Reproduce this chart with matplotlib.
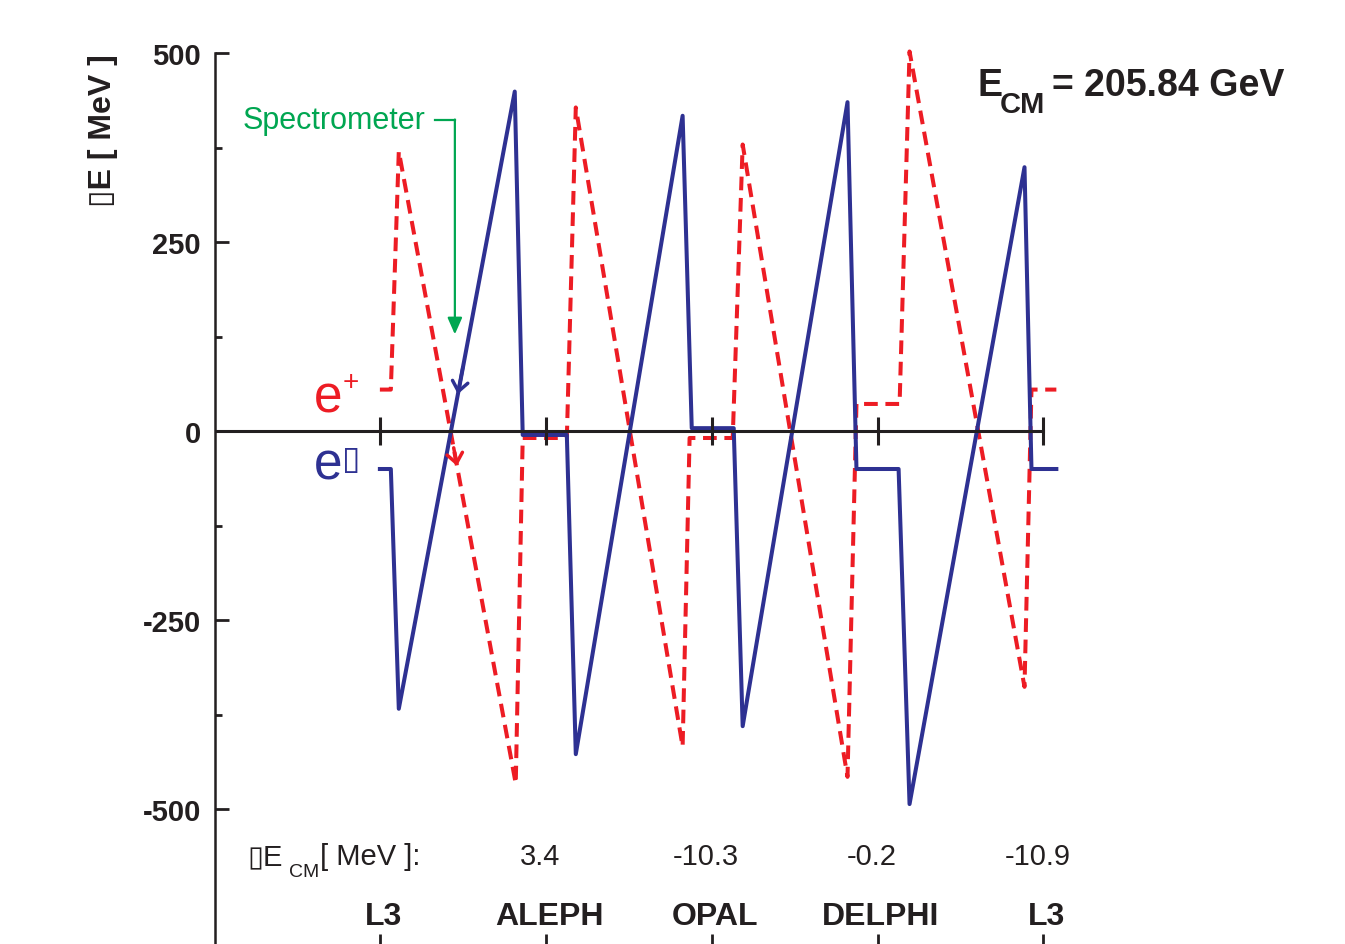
import numpy as np
import matplotlib
matplotlib.use("Agg")
import matplotlib.pyplot as plt
from matplotlib.ticker import FixedLocator

plt.rcParams['font.family'] = ['Liberation Sans', 'DejaVu Sans']
plt.rcParams['axes.unicode_minus'] = False

# interaction points around the ring (in units of IP spacing)
ip_x     = [0, 1, 2, 3, 4]
ip_names = ['L3', 'ALEPH', 'OPAL', 'DELPHI', 'L3']
dEcm_x   = [1, 2, 3, 4]
dEcm_txt = ['3.4', '-10.3', '-0.2', '-10.9']

# e+ energy deviation (MeV), dashed red
ep_x = [0.0, 0.066, 0.114, 0.819, 0.861, 1.127, 1.181, 1.825, 1.867,
        2.127, 2.187, 2.819, 2.873, 3.133, 3.193, 3.886, 3.928, 4.078]
ep_y = [55, 55, 370, -466, -9, -9, 428, -417, -9,
        -9, 379, -457, 36, 36, 502, -338, 55, 55]

# e- energy deviation (MeV), solid blue
em_x = [0.0, 0.066, 0.114, 0.813, 0.861, 1.127, 1.181, 1.825, 1.880,
        2.133, 2.187, 2.819, 2.873, 3.127, 3.193, 3.886, 3.928, 4.078]
em_y = [-50, -50, -367, 449, -5, -5, -427, 417, 4,
        4, -390, 435, -50, -50, -493, 349, -50, -50]

RED = '#ed1c24'
BLUE = '#2e3192'
GREEN = '#00a651'
BLACK = '#231f20'

W, H = 1345, 945
fig = plt.figure(figsize=(W / 100, H / 100), dpi=100)


def fx(px):
    return px / W


def fy(py):
    return 1 - py / H


ax = fig.add_axes([fx(215), 0, fx(1060) - fx(215), 1 - 54 / H])
ax.set_xlim(-0.994, 4.1)
ax.set_ylim(-678, 500)

for s in ['top', 'right', 'bottom']:
    ax.spines[s].set_visible(False)
ax.spines['left'].set_linewidth(1.8)
ax.spines['left'].set_color(BLACK)

ax.yaxis.set_major_locator(FixedLocator([-500, -250, 0, 250, 500]))
ax.yaxis.set_minor_locator(FixedLocator([-375, -125, 125, 375]))
ax.tick_params(axis='y', which='major', direction='in', length=10, width=2,
               pad=10, labelsize=21, colors=BLACK)
ax.tick_params(axis='y', which='minor', direction='in', length=5, width=2,
               colors=BLACK)
for lab in ax.get_yticklabels():
    lab.set_fontweight('bold')

ax.set_xticks(ip_x)
ax.set_xticklabels([])
ax.tick_params(axis='x', which='major', direction='in', length=7, width=2,
               colors=BLACK)

# beam energy curves
ax.plot(ep_x, ep_y, color=RED, lw=2.9, ls=(0, (3.4, 1.9)), clip_on=False, zorder=2)
ax.plot(em_x, em_y, color=BLUE, lw=2.9, clip_on=False, zorder=2)

# zero line with IP marks
ax.plot([ax.get_xlim()[0], ip_x[-1]], [0, 0], color=BLACK, lw=2.2, zorder=3)
ax.plot(ip_x, np.zeros(len(ip_x)), ls='none', marker='|', ms=20, mew=2.2,
        color=BLACK, zorder=3)

# direction chevrons
ax.annotate('', xy=(0.470, 49), xytext=(0.50, 84),
            arrowprops=dict(arrowstyle='->,head_length=0.35,head_width=0.28',
                            color=BLUE, lw=2.5, mutation_scale=20,
                            shrinkA=0, shrinkB=0))
ax.annotate('', xy=(0.465, -46), xytext=(0.445, -22),
            arrowprops=dict(arrowstyle='->,head_length=0.35,head_width=0.28',
                            color=RED, lw=2.5, mutation_scale=20,
                            shrinkA=0, shrinkB=0))

# spectrometer pointer
ax.plot([0.331, 0.452], [412, 412], color=GREEN, lw=1.6)
ax.annotate('', xy=(0.452, 128), xytext=(0.452, 412),
            arrowprops=dict(arrowstyle='-|>,head_length=0.5,head_width=0.22',
                            color=GREEN, lw=1.6, mutation_scale=20,
                            shrinkA=0, shrinkB=0))
ax.text(0.274, 412, 'Spectrometer', color=GREEN, fontsize=22,
        ha='right', va='center')

# e+ / e- labels
ax.text(-0.395, 26, 'e', color=RED, fontsize=37, ha='left', va='baseline')
ax.text(-0.222, 65, '+', color=RED, fontsize=20, ha='left', va='center')
ax.text(-0.395, -62, 'e', color=BLUE, fontsize=37, ha='left', va='baseline')
ax.text(-0.228, -38, '\u25af', color=BLUE, fontsize=24, ha='left', va='center')

# per-IP values and names
for x, t in zip(dEcm_x, dEcm_txt):
    ax.text(x - 0.035, -572, t, fontsize=21, ha='center', va='baseline',
            color=BLACK)
for x, n in zip(ip_x, ip_names):
    ax.text(x + 0.02, -651, n, fontsize=23, fontweight='bold', ha='center',
            va='baseline', color=BLACK)

# bottom row label
fig.text(fx(247), fy(865), '\u25afE', fontsize=21, ha='left', va='baseline',
         color=BLACK)
fig.text(fx(289), fy(877), 'CM', fontsize=14, ha='left', va='baseline',
         color=BLACK)
fig.text(fx(320), fy(865), '[ MeV ]:', fontsize=21, ha='left', va='baseline',
         color=BLACK)

# y label
fig.text(fx(103), fy(131), '\u25afE [ MeV ]', fontsize=23, fontweight='bold',
         rotation=90, ha='center', va='center', color=BLACK)

# centre-of-mass energy
fig.text(fx(977), fy(96), 'E', fontsize=27, fontweight='bold', ha='left',
         va='baseline', color=BLACK)
fig.text(fx(1000), fy(113), 'CM', fontsize=21, fontweight='bold', ha='left',
         va='baseline', color=BLACK)
fig.text(fx(1052), fy(96), '= 205.84 GeV', fontsize=27, fontweight='bold',
         ha='left', va='baseline', color=BLACK)

fig.savefig('out.png', dpi=100)
